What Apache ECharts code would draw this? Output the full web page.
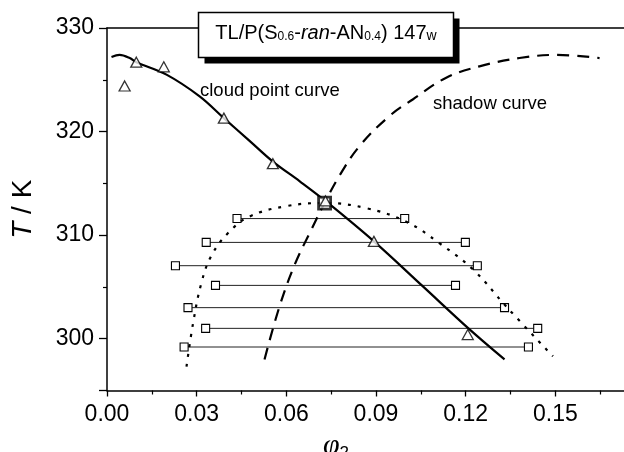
<!DOCTYPE html>
<html>
<head>
<meta charset="utf-8">
<script src="https://cdn.jsdelivr.net/npm/echarts@6/dist/echarts.min.js"></script>
<style>
  html, body { margin: 0; padding: 0; background: #fff; }
  #chart { width: 624px; height: 452px; }
</style>
</head>
<body>
<div id="chart"></div>
<script>
// Cloud point curve (solid line), phi2 vs T/K
const cloudPointCurve = [
  [0.0015, 327.2], [0.0042, 327.4], [0.0076, 327.1], [0.0098, 326.7],
  [0.0199, 325.5], [0.0310, 323.4], [0.0391, 321.3], [0.0477, 319.1],
  [0.0555, 317.1], [0.0645, 315.2], [0.0731, 313.3], [0.0893, 309.4],
  [0.1057, 305.05], [0.1213, 300.9], [0.1330, 298.0]
];
// Shadow curve (dashed)
const shadowCurve = [
  [0.0527, 298.0], [0.0577, 303.1], [0.0628, 307.15], [0.0678, 310.2],
  [0.0728, 313.1], [0.0778, 315.75], [0.0845, 318.6], [0.0945, 321.5],
  [0.1023, 323.1], [0.1135, 325.2], [0.1246, 326.3], [0.1380, 327.1],
  [0.1503, 327.4], [0.1648, 327.1]
];
// Coexistence curve (dotted)
const coexistenceCurve = [
  [0.0266, 297.3], [0.0288, 301.5], [0.0316, 305.4], [0.0349, 308.0],
  [0.0405, 310.2], [0.0477, 311.8], [0.0600, 312.8], [0.0728, 313.1],
  [0.0868, 312.6], [0.1001, 311.3], [0.1113, 309.2], [0.1224, 306.7],
  [0.1336, 303.1], [0.1492, 298.3]
];
// Measured cloud points (triangles)
const cloudPhi = [0.0059, 0.0098, 0.0190, 0.0391, 0.0555, 0.0731, 0.0893, 0.1207];
const cloudT   = [324.4, 326.7, 326.25, 321.3, 316.9, 313.3, 309.4, 300.4];
// Tie lines: coexisting phase compositions (squares)
const tieT     = [311.6, 309.3, 307.05, 305.15, 303.0, 301.0, 299.2];
const tieLeft  = [0.0435, 0.0332, 0.0229, 0.0363, 0.0271, 0.0330, 0.0258];
const tieRight = [0.0996, 0.1199, 0.1239, 0.1166, 0.1330, 0.1441, 0.1410];
// Critical point
const criticalPoint = [0.0728, 313.1];
// Axis ranges
const xTicks = { min: 0, max: 0.18, step: 0.03, lastLabel: 0.15 };
const yRange = { min: 295, max: 330 };

const SANS = '"Liberation Sans", Arial, Helvetica, sans-serif';
const chart = echarts.init(document.getElementById('chart'), null, { renderer: 'canvas' });

const tieSeries = tieT.map((t, i) => ({
  type: 'line',
  data: [[tieLeft[i], t], [tieRight[i], t]],
  symbol: 'rect',
  symbolSize: 8,
  showSymbol: true,
  itemStyle: { color: '#fff', borderColor: '#000', borderWidth: 1.1 },
  lineStyle: { color: '#222', width: 1 },
  z: 2,
  silent: true
}));

const option = {
  animation: false,
  backgroundColor: '#fff',
  grid: { left: 107, right: -21, top: 28, bottom: 61.5, containLabel: false, outerBoundsMode: 'none' },
  xAxis: [{
    type: 'value',
    min: xTicks.min, max: xTicks.max, interval: xTicks.step,
    axisLine: { show: true, onZero: false, lineStyle: { color: '#000', width: 1.5 } },
    axisTick: { show: true, length: 6, inside: false, lineStyle: { color: '#000', width: 1.3 } },
    minorTick: { show: true, splitNumber: 2, length: 4, lineStyle: { color: '#000', width: 1.2 } },
    splitLine: { show: false },
    axisLabel: {
      margin: 13, color: '#000', fontSize: 23, fontFamily: SANS,
      formatter: v => (v <= xTicks.lastLabel + 1e-9 ? v.toFixed(2) : '')
    },
    name: '{p|φ}{s|2}',
    nameLocation: 'middle',
    nameGap: 32,
    nameTextStyle: {
      padding: [0, 80, 0, 0],
      rich: {
        p: { fontFamily: '"Liberation Serif", "DejaVu Serif", serif', fontStyle: 'italic', fontSize: 30, color: '#000' },
        s: { fontFamily: SANS, fontSize: 17, color: '#000', verticalAlign: 'bottom', lineHeight: 8 }
      }
    }
  }, {
    type: 'value', position: 'top',
    min: xTicks.min, max: xTicks.max, interval: xTicks.step,
    axisLine: { show: true, onZero: false, lineStyle: { color: '#000', width: 1.5 } },
    axisTick: { show: false }, axisLabel: { show: false }, splitLine: { show: false }
  }],
  yAxis: {
    type: 'value',
    min: yRange.min, max: yRange.max, splitNumber: 4,
    axisLine: { show: true, onZero: false, lineStyle: { color: '#000', width: 1.5 } },
    axisTick: { show: true, length: 8, lineStyle: { color: '#000', width: 1.3 } },
    minorTick: { show: true, splitNumber: 2, length: 4, lineStyle: { color: '#000', width: 1.2 } },
    splitLine: { show: false },
    axisLabel: {
      margin: 13, color: '#000', fontSize: 23, fontFamily: SANS,
      formatter: v => (v % 10 === 0 ? String(v) : '')
    },
    name: '{i|T}{n| / K}',
    nameLocation: 'middle',
    nameGap: 70,
    nameTextStyle: {
      rich: {
        i: { fontFamily: SANS, fontStyle: 'italic', fontSize: 28, color: '#000' },
        n: { fontFamily: SANS, fontSize: 28, color: '#000' }
      }
    }
  },
  graphic: [
    { type: 'rect', z: 100, shape: { x: 204.5, y: 18.5, width: 255, height: 45 }, style: { fill: '#000' } },
    { type: 'rect', z: 101, shape: { x: 198.5, y: 12.5, width: 255, height: 45 },
      style: { fill: '#fff', stroke: '#000', lineWidth: 1.5 } },
    { type: 'text', z: 102, x: 326, y: 33,
      style: {
        text: '{m|TL/P(S}{s|0.6}{m|-}{i|ran}{m|-AN}{s|0.4}{m|) 147}{w|w}',
        align: 'center', verticalAlign: 'middle',
        rich: {
          m: { fontFamily: SANS, fontSize: 20, fill: '#000' },
          i: { fontFamily: SANS, fontSize: 20, fontStyle: 'italic', fill: '#000' },
          s: { fontFamily: SANS, fontSize: 12, fill: '#000', verticalAlign: 'bottom', lineHeight: 5 },
          w: { fontFamily: SANS, fontSize: 14, fill: '#000', verticalAlign: 'bottom', lineHeight: 14 }
        }
      }
    },
    { type: 'text', z: 50, x: 200, y: 91,
      style: { text: 'cloud point curve', font: '18.5px "Liberation Sans", Arial, sans-serif', fill: '#000', verticalAlign: 'middle' } },
    { type: 'text', z: 50, x: 433, y: 104,
      style: { text: 'shadow curve', font: '18.5px "Liberation Sans", Arial, sans-serif', fill: '#000', verticalAlign: 'middle' } }
  ],
  series: [
    ...tieSeries,
    {
      type: 'line', data: coexistenceCurve, smooth: 0.4, showSymbol: false, symbol: 'none',
      lineStyle: { color: '#000', width: 2.2, type: [3, 7] }, z: 3, silent: true
    },
    {
      type: 'line', data: shadowCurve, smooth: 0.4, showSymbol: false, symbol: 'none',
      lineStyle: { color: '#000', width: 2.2, type: [12, 8] }, z: 3, silent: true
    },
    {
      type: 'line', data: cloudPointCurve, smooth: 0.35, showSymbol: false, symbol: 'none',
      lineStyle: { color: '#000', width: 2.2 }, z: 3, silent: true
    },
    {
      type: 'scatter', data: [criticalPoint], symbol: 'rect', symbolSize: 12,
      itemStyle: { color: '#fff', borderColor: '#000', borderWidth: 2.8 }, z: 6, silent: true
    },
    {
      type: 'scatter', data: cloudPhi.map((p, i) => [p, cloudT[i]]),
      symbol: 'triangle', symbolSize: [11, 10],
      itemStyle: { color: '#fff', borderColor: '#000', borderWidth: 1.3 }, z: 7, silent: true
    }
  ]
};
chart.setOption(option);
</script>
</body>
</html>
